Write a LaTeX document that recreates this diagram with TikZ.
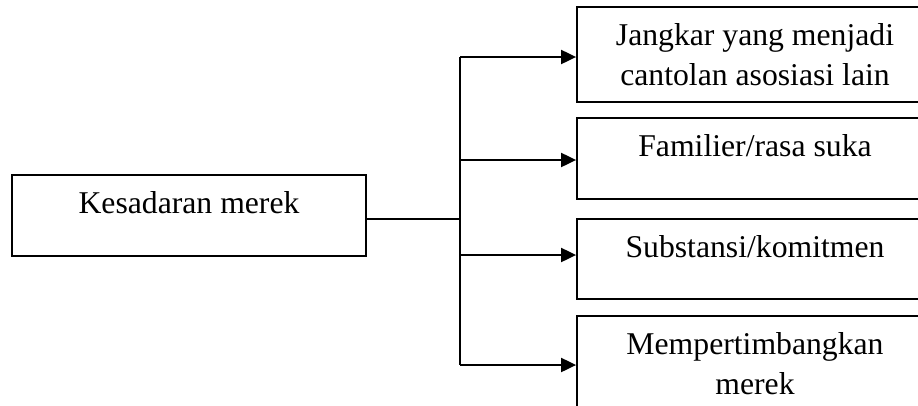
\documentclass[tikz,border=0pt]{standalone}
\usepackage{fontspec}
\setmainfont{Liberation Serif}
\usetikzlibrary{arrows.meta}

\begin{document}
\begin{tikzpicture}[x=1pt,y=1pt,
  box/.style={draw=black, line width=1.8pt, rectangle, inner sep=0pt},
  lbl/.style={font=\fontsize{31.7}{40}\selectfont, align=center, inner sep=0pt, anchor=base},
  wire/.style={draw=black, line width=2pt},
  tip/.style={-{Triangle[length=15pt,width=14pt]}}]
\useasboundingbox (0,0) rectangle (918,-405);
\clip (0,0) rectangle (918,-405);

% boxes (the right column runs past the edge of the page)
\node[box, minimum width=354, minimum height=81] (src) at (189,-215.5) {};
\node[box, minimum width=356, minimum height=95] (b1) at (755,-54.5) {};
\node[box, minimum width=356, minimum height=81] (b2) at (755,-158.5) {};
\node[box, minimum width=356, minimum height=80] (b3) at (755,-259) {};
\node[box, minimum width=356, minimum height=95] (b4) at (755,-363.5) {};

% texts, set from the top of each box (base = last line)
\node[lbl] (tsrc) at ([yshift=-39]src.north) {Kesadaran merek};
\node[lbl] (t1) at ([yshift=-79]b1.north) {Jangkar yang menjadi\\cantolan asosiasi lain};
\node[lbl] (t2) at ([yshift=-39]b2.north) {Familier/rasa suka};
\node[lbl] (t3) at ([yshift=-39]b3.north) {Substansi/komitmen};
\node[lbl] (t4) at ([yshift=-79]b4.north) {Mempertimbangkan\\merek};

% connector tree
\coordinate (j) at (460,-219);
\coordinate (a1) at ([yshift=-2.5]b1.west);
\coordinate (a2) at ([yshift=-1.5]b2.west);
\coordinate (a3) at ([yshift=4]b3.west);
\coordinate (a4) at ([yshift=-1.5]b4.west);
\draw[wire] (src.east |- j) -- (j);
\draw[wire] (j |- a1) -- (j |- a4);
\foreach \k in {1,2,3,4}
  \draw[wire,tip] (j |- a\k) -- (a\k);
\end{tikzpicture}
\end{document}
